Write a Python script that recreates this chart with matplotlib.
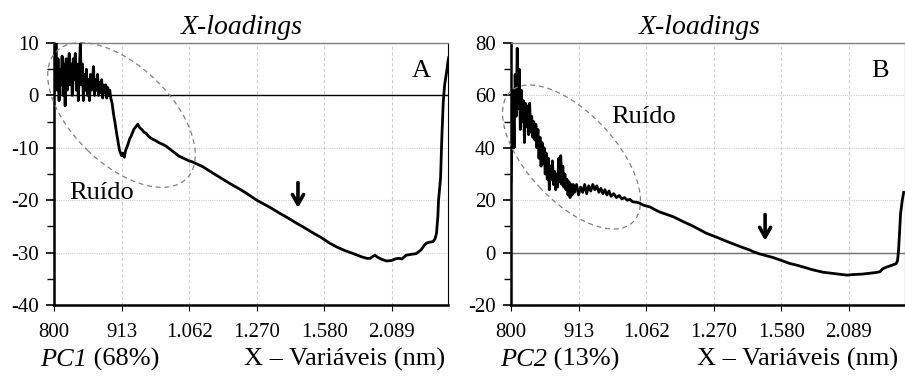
import numpy as np
import matplotlib.pyplot as plt
from matplotlib.patches import Ellipse

plt.rcParams['font.family'] = 'Liberation Serif'
plt.rcParams['axes.unicode_minus'] = False

tick_labels = ['800', '913', '1.062', '1.270', '1.580', '2.089']

# PC1: noisy start (about one value per pixel), then the smooth part
pc1_noise = [0, 4, 11, 1, 7, -1, 5, 2, 7.5, 0, 6, -2, 7, 1, 5, 8, 2, 6, 0, 7,
             3, 8, 1, 6, -1, 5, 10, 2, 6, -1, 4, 1, 5, 0, 3, -1, 4, 1, 3, 5.5,
             0, 3, 1, 4, 0, 2.5, 0.5, 3, -0.5, 2, 0.5, 2, -0.5, 1.5, 0, 1, -0.5]
pc1_x = [0.86, 0.88, 0.90, 0.93, 0.95, 0.97, 1.00, 1.02, 1.04, 1.06, 1.09, 1.12,
         1.15, 1.18, 1.21, 1.24, 1.27, 1.30, 1.33, 1.36, 1.40, 1.45, 1.50, 1.55,
         1.60, 1.65, 1.70, 1.75, 1.80, 1.85, 1.90, 1.95, 2.00, 2.05, 2.20, 2.36,
         2.50, 2.60, 2.75, 2.85, 3.00, 3.10, 3.20, 3.34, 3.45, 3.59, 3.70, 3.84,
         3.95, 4.08, 4.18, 4.30, 4.43, 4.55, 4.63, 4.68, 4.72, 4.75, 4.79, 4.85,
         4.92, 5.00, 5.05, 5.10, 5.15, 5.21, 5.30, 5.36, 5.43, 5.48, 5.51, 5.56,
         5.61, 5.64, 5.66, 5.68, 5.69, 5.72, 5.74, 5.76, 5.78, 5.81, 5.83, 5.84]
pc1_y = [-1.5, -3.5, -5.0, -7.5, -9.0, -10.5, -11.5, -11.0, -11.8, -10.5, -9.5, -8.3,
         -7.5, -6.5, -6.0, -5.5, -6.2, -6.5, -7.0, -7.2, -7.8, -8.3, -8.6, -9.0,
         -9.3, -9.6, -10.1, -10.6, -11.1, -11.6, -11.9, -12.2, -12.5, -12.7, -13.6, -14.9,
         -16.0, -16.8, -17.9, -18.7, -20.0, -20.7, -21.4, -22.5, -23.3, -24.4, -25.2, -26.3,
         -27.1, -28.2, -28.9, -29.6, -30.2, -30.8, -31.1, -31.1, -30.7, -30.5, -30.9, -31.3,
         -31.6, -31.5, -31.2, -31.1, -31.2, -30.5, -30.3, -30.2, -29.5, -28.6, -28.2, -28.0,
         -27.9, -27.3, -26.3, -23.1, -20.0, -15.8, -7.6, -1.2, 2.0, 4.5, 6.5, 7.2]

# PC2
pc2_noise = [27, 45, 62, 40, 68, 52, 78, 55, 70, 47, 62, 50, 58, 42, 57, 48, 56, 45, 57, 46,
             52, 44, 50, 43, 49, 40, 47, 36, 44, 33, 42, 34, 40, 30, 38, 28, 36, 24, 33, 28,
             35, 26, 31, 24, 30, 25, 36, 27, 37, 26, 33, 25, 30, 24, 28, 22, 27, 21, 26, 22, 26]
pc2_x = [0.94, 0.97, 1.00, 1.03, 1.06, 1.09, 1.12, 1.15, 1.18, 1.21, 1.24, 1.27,
         1.30, 1.33, 1.36, 1.39, 1.42, 1.45, 1.48, 1.52, 1.56, 1.60, 1.64, 1.68,
         1.72, 1.76, 1.80, 1.86, 1.91, 1.96, 2.00, 2.06, 2.12, 2.20, 2.40, 2.55,
         2.70, 2.89, 3.04, 3.20, 3.39, 3.54, 3.59, 3.68, 3.78, 3.88, 3.98, 4.13,
         4.23, 4.35, 4.47, 4.62, 4.75, 4.86, 4.97, 5.05, 5.20, 5.30, 5.40, 5.46,
         5.50, 5.56, 5.64, 5.70, 5.72, 5.735, 5.75, 5.765, 5.79, 5.81]
pc2_y = [23, 26, 22, 25, 23, 26, 22.5, 25.5, 23.5, 26, 24, 25.5,
         23, 24.5, 22.5, 24, 22, 23.5, 21.5, 22.5, 21, 21.8, 20.5, 21,
         20, 20.3, 19.4, 19.2, 18.8, 18.1, 17.8, 17.4, 16.5, 15.5, 13.7, 11.8,
         10.0, 7.4, 5.9, 4.2, 2.3, 0.9, 0.3, -0.5, -1.2, -1.9, -2.8, -4.2,
         -4.8, -5.7, -6.6, -7.5, -7.9, -8.2, -8.6, -8.4, -8.2, -7.9, -7.6, -7.3,
         -6.2, -5.5, -4.8, -4.2, -3.0, 1.0, 8.0, 15.0, 20.0, 23.0]

W, H = 905, 376


def fx(px):
    return px / W


def fy(py):
    return 1 - py / H


fig = plt.figure(figsize=(9.05, 3.76), dpi=100)

panels = [
    dict(rect=[fx(54), fy(305), fx(394), 262 / H], noise=pc1_noise, nx=0.84,
         x=pc1_x, y=pc1_y, ylim=(-40, 10), major=10, minor=5, zc='black',
         letter='A', lx=421, pc='PC1', pct=' (68%)', pcx=40, xr=445,
         tx=242, arrow=(3.61, -16.1, -22.0),
         ell=(121.5, 115, 182, 98, -44), rx=102, ry=193),
    dict(rect=[fx(511), fy(305), fx(394), 262 / H], noise=pc2_noise, nx=0.92,
         x=pc2_x, y=pc2_y, ylim=(-20, 80), major=20, minor=10, zc='#707070',
         letter='B', lx=880, pc='PC2', pct=' (13%)', pcx=500, xr=898,
         tx=700, arrow=(3.76, 15.6, 3.5),
         ell=(571.5, 157, 179, 88, -47), rx=644, ry=117),
]

for p in panels:
    ax = fig.add_axes(p['rect'])
    xs = np.concatenate([np.linspace(0, p['nx'], len(p['noise'])), p['x']])
    ys = np.concatenate([p['noise'], p['y']])
    ax.plot(xs, ys, color='black', lw=2.0, zorder=3)
    ax.axhline(0, color=p['zc'], lw=1.0, zorder=2)
    ax.set_xlim(0, 5.83)
    ax.set_ylim(*p['ylim'])
    ax.set_xticks(range(6))
    ax.set_xticklabels(tick_labels)
    ax.set_yticks(np.arange(p['ylim'][0], p['ylim'][1] + 1, p['major']))
    ax.set_yticks(np.arange(p['ylim'][0], p['ylim'][1] + 1, p['minor']), minor=True)
    ax.xaxis.grid(True, color='#d0d0d0', ls=(0, (3, 2)), lw=0.8)
    ax.yaxis.grid(True, color='#d0d0d0', ls=(0, (1, 1)), lw=0.8)
    ax.tick_params(axis='x', length=4, width=0.8, pad=9, labelsize=15)
    ax.tick_params(axis='y', which='major', length=6, width=1.2, pad=5, labelsize=15)
    ax.tick_params(axis='y', which='minor', length=5, width=1.0)
    for s in ['left', 'bottom']:
        ax.spines[s].set_linewidth(1.8)
    ax.spines['top'].set_color('#808080')
    ax.spines['top'].set_linewidth(1.0)
    ax.spines['right'].set_linewidth(0.8)
    ax.set_axisbelow(True)

    ax_, y0, y1 = p['arrow']
    ax.annotate('', xy=(ax_, y1), xytext=(ax_, y0),
                arrowprops=dict(arrowstyle='->, head_width=0.4, head_length=0.7',
                                color='black', lw=2.6))

    cx, cy, ew, eh, ang = p['ell']
    fig.add_artist(Ellipse((cx / 100, (H - cy) / 100), ew / 100, eh / 100, angle=ang,
                           transform=fig.dpi_scale_trans, fill=False,
                           ec='#808080', lw=0.9, ls=(0, (4, 3))))

    fig.text(fx(p['lx']), fy(71), p['letter'], fontsize=19, ha='center', va='center')
    fig.text(fx(p['rx']), fy(p['ry']), 'Ruído', fontsize=19, ha='center', va='center')
    fig.text(fx(p['tx']), fy(27), 'X-loadings', fontsize=20, style='italic',
             ha='center', va='center')
    t1 = fig.text(fx(p['pcx']), fy(366), p['pc'], fontsize=19, style='italic',
                  ha='left', va='baseline')
    ax.annotate(p['pct'], xy=(1, 0), xycoords=t1, fontsize=19, ha='left', va='bottom')
    fig.text(fx(p['xr']), fy(366), 'X – Variáveis (nm)', fontsize=19,
             ha='right', va='baseline')

fig.savefig('out.png', dpi=100)
